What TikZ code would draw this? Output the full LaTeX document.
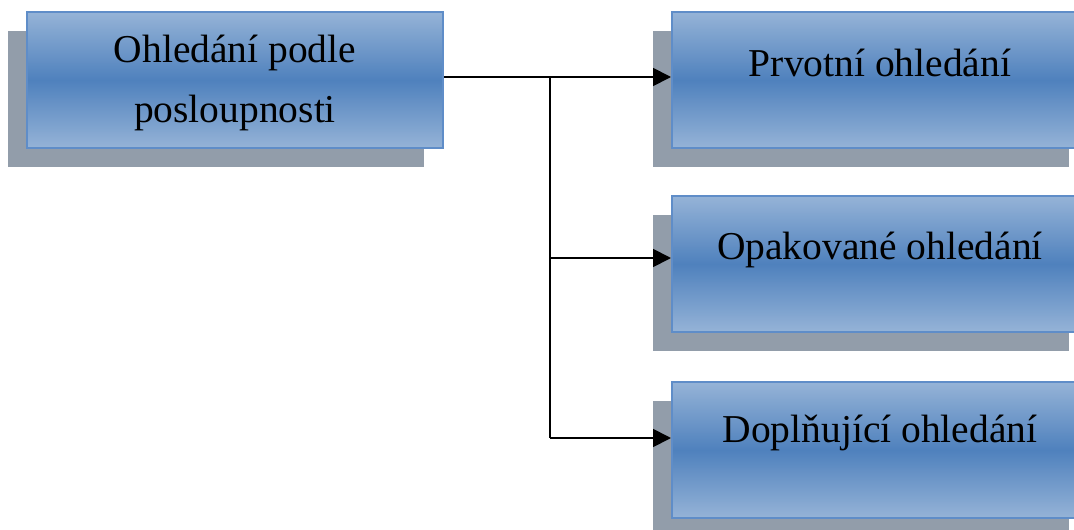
\documentclass[tikz,border=0pt]{standalone}
\usepackage{fontspec}
\setmainfont{Liberation Serif}
\usetikzlibrary{arrows.meta,shadows}
\definecolor{boxlight}{RGB}{149,179,215}
\definecolor{boxdark}{RGB}{79,129,189}
\definecolor{boxedge}{RGB}{95,141,200}
\definecolor{shadowgray}{RGB}{146,157,170}
\begin{document}
\begin{tikzpicture}[x=1pt,y=-1pt,
  stepbox/.style={rectangle, minimum width=416pt, minimum height=136pt,
    inner sep=0pt, draw=boxedge, line width=2pt,
    top color=boxlight, bottom color=boxlight, middle color=boxdark,
    general shadow={fill=shadowgray, shadow xshift=-19pt, shadow yshift=-19pt}},
  boxtext/.style={font=\fontsize{39.5}{61}\selectfont, inner sep=0pt},
  link/.style={line width=1.8pt, black},
  tip/.style={link, -{Triangle[length=18pt,width=18pt]}}]
\useasboundingbox (0,0) rectangle (1074,530);

% boxes
\node[stepbox] (src) at (235,80) {};
\node[stepbox] (p1) at (880,80) {};
\node[stepbox] (p2) at (880,264) {};
\node[stepbox] (p3) at (880,450) {};

% labels
\node[boxtext, anchor=base] (s1) at (235,62) {Ohledání podle};
\node[boxtext, anchor=base] (s2) at (235,122) {posloupnosti};
\node[boxtext, anchor=base] (t1) at (880,76) {Prvotní ohledání};
\node[boxtext, anchor=base] (t2) at (880,259) {Opakované ohledání};
\node[boxtext, anchor=base] (t3) at (880,442) {Doplňující ohledání};

% connectors
\coordinate (split) at (550,77);
\coordinate (bend2) at (550,258);
\coordinate (bend3) at (550,438);
\draw[tip] ([yshift=3pt]src.east) -- ([yshift=3pt]p1.west);
\draw[link] (split) -- (bend3);
\draw[tip] (bend2) -- ([yshift=6pt]p2.west);
\draw[tip] (bend3) -- ([yshift=12pt]p3.west);
\end{tikzpicture}
\end{document}
